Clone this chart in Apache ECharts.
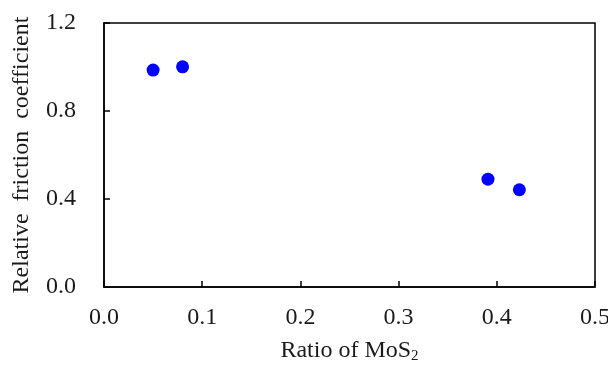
<!DOCTYPE html>
<html>
<head>
<meta charset="utf-8">
<script src="https://cdn.jsdelivr.net/npm/echarts@6/dist/echarts.min.js"></script>
<style>html,body{margin:0;padding:0;background:#fff;}#c{width:608px;height:365px;}</style>
</head>
<body>
<div id="c"></div>
<script>
const ratioMoS2 = [0.050, 0.080, 0.391, 0.423];
const relFriction = [0.986, 1.001, 0.490, 0.442];
const xTicks = [0.0, 0.1, 0.2, 0.3, 0.4, 0.5];
const yTicks = [0.0, 0.4, 0.8, 1.2];

const font = 'Liberation Serif';
const txt = '#1a1a1a';
const chart = echarts.init(document.getElementById('c'));
chart.setOption({
  animation: false,
  backgroundColor: '#fff',
  grid: {left: 104, right: 13, top: 23, bottom: 78, show: true, borderColor: '#000', borderWidth: 1.5, containLabel: false, outerBoundsMode: 'none'},
  xAxis: {
    type: 'value', min: xTicks[0], max: xTicks[xTicks.length-1], interval: 0.1,
    name: '{a|Ratio of MoS}{s|2}', nameLocation: 'middle', nameGap: 50,
    nameTextStyle: {rich: {a: {fontFamily: font, fontSize: 24, color: txt}, s: {fontFamily: font, fontSize: 15, color: txt, verticalAlign: 'bottom', padding: [12,0,0,0]}}},
    axisLine: {show: true, lineStyle: {color: '#000', width: 1.5}},
    axisTick: {show: true, inside: true, length: 6, lineStyle: {color: '#000', width: 1.5}},
    splitLine: {show: false},
    axisLabel: {fontFamily: font, fontSize: 24, color: txt, margin: 19, formatter: v => v.toFixed(1)}
  },
  yAxis: {
    type: 'value', min: yTicks[0], max: yTicks[yTicks.length-1], interval: 0.4,
    name: 'Relative  friction  coefficient', nameLocation: 'middle', nameGap: 70,
    nameTextStyle: {fontFamily: font, fontSize: 24, color: txt},
    axisLine: {show: true, lineStyle: {color: '#000', width: 1.5}},
    axisTick: {show: true, inside: true, length: 6, lineStyle: {color: '#000', width: 1.5}},
    splitLine: {show: false},
    axisLabel: {fontFamily: font, fontSize: 24, color: txt, margin: 28, formatter: v => v.toFixed(1)}
  },
  series: [{
    type: 'scatter',
    symbol: 'circle',
    symbolSize: 13,
    itemStyle: {color: '#0000ff', opacity: 1},
    data: ratioMoS2.map((x, i) => [x, relFriction[i]])
  }]
});
</script>
</body>
</html>
